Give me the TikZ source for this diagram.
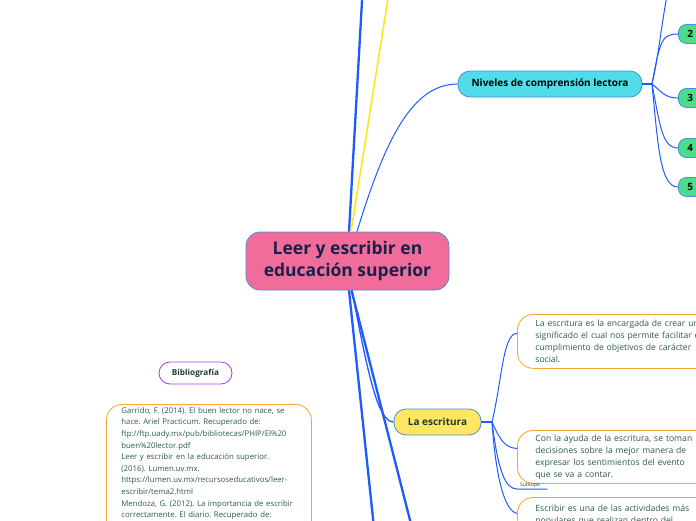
\documentclass[tikz,border=0pt]{standalone}
\usepackage{fontspec}
\setmainfont{Open Sans}
\frenchspacing
\definecolor{lineblue}{HTML}{1E5BFF}
\definecolor{lineyel}{HTML}{FFE81A}
\definecolor{pinkfill}{HTML}{F26C9B}
\definecolor{navy}{HTML}{17224A}
\definecolor{edgeblue}{HTML}{4A90CF}
\definecolor{cyanfill}{HTML}{50DCE9}
\definecolor{greenfill}{HTML}{4CDC8D}
\definecolor{yelfill}{HTML}{FFE761}
\definecolor{orangeb}{HTML}{F7A531}
\definecolor{purpleb}{HTML}{A13BEB}
\definecolor{txtgreen}{HTML}{2C5A4A}
\definecolor{darkgreen}{HTML}{1C3A30}
\tikzset{
  mainbox/.style={draw=edgeblue, fill=pinkfill, rounded corners=14pt, line width=0.8pt,
    minimum width=203pt, minimum height=58pt, align=center, text=navy,
    font=\fontsize{17.5}{22}\selectfont\bfseries},
  topicbox/.style={draw=edgeblue, line width=0.8pt, rounded corners=12pt, minimum height=26pt,
    font=\fontsize{10}{12}\selectfont\bfseries},
  numbox/.style={draw=edgeblue, fill=greenfill, line width=0.8pt, rounded corners=8pt,
    minimum height=19pt, text width=40pt, inner xsep=9pt, align=left, anchor=west,
    font=\fontsize{10}{12}\selectfont\bfseries},
  notebox/.style={draw=orangeb, line width=0.8pt, rounded corners=16pt, anchor=north west,
    text width=280pt, inner xsep=18pt, align=left, text=txtgreen,
    font=\fontsize{8.6}{12}\selectfont},
  thickline/.style={draw=lineblue, line width=2.3pt},
  thinline/.style={draw=lineblue, line width=1pt},
}
\begin{document}
\begin{tikzpicture}[x=1pt,y=-1pt]
\useasboundingbox (0,0) rectangle (696,520);
\clip (0,0) rectangle (696,520);

% nodes
\node[mainbox] (c) at (347.5,261) {Leer y escribir en\\educación superior};
\node[topicbox, fill=cyanfill, minimum width=184pt, text=black] (n) at (550,84) {Niveles de comprensión lectora};
\node[topicbox, fill=yelfill, minimum width=87pt, text=darkgreen] (esc) at (437.5,422) {La escritura};

\node[numbox] (g2) at (678,34) {2};
\node[numbox] (g3) at (678,98) {3};
\node[numbox] (g4) at (678,148) {4};
\node[numbox] (g5) at (678,187) {5};

\node[notebox, minimum height=54pt] (b1) at (517,314)
  {La escritura es la encargada de crear un\\significado el cual nos permite facilitar el\\cumplimiento de objetivos de carácter\\social.};
\node[notebox, minimum height=53pt] (b2) at (517,430)
  {Con la ayuda de la escritura, se toman\\decisiones sobre la mejor manera de\\expresar los sentimientos del evento\\que se va a contar.};
\node[notebox, minimum height=36pt, inner ysep=3pt] (b3) at (517,497)
  {Escribir es una de las actividades más\\populares que realizan dentro del\\ };

\node[anchor=south west, inner xsep=3pt, inner ysep=1pt, text width=24pt, align=left,
  font=\fontsize{5}{6}\selectfont, text=black!80] (sub) at (517,489) {Subtopic};

\node[draw=purpleb, line width=0.8pt, rounded corners=11pt, minimum width=73pt, minimum height=22pt,
  text=darkgreen, font=\fontsize{8.2}{10}\selectfont\bfseries] (bib) at (195.5,373) {Bibliografía};

\node[draw=orangeb, line width=0.8pt, rounded corners=16pt, anchor=north west, text width=175pt,
  inner xsep=15pt, inner ysep=3pt, align=left, text=txtgreen,
  font=\fontsize{7.8}{11.6}\selectfont] (refs) at (106,404)
  {Garrido, F. (2014). El buen lector no nace, se\\
   hace. Ariel Practicum. Recuperado de:\\
   ftp://ftp.uady.mx/pub/bibliotecas/PHIP/El\%20\\
   buen\%20lector.pdf\\
   Leer y escribir en la educación superior.\\
   (2016). Lumen.uv.mx.\\
   https://lumen.uv.mx/recursoseducativos/leer-\\
   escribir/tema2.html\\
   Mendoza, G. (2012). La importancia de escribir\\
   correctamente. El diario. Recuperado de:\\
   \ \\ \ };

% free ends
\coordinate (top1) at (362.5,-8);
\coordinate (top2) at (389,-8);
\coordinate (bot1) at (374,528);
\coordinate (bot2) at (412,528);
\coordinate (gtop) at (668,-10);
\coordinate (nh) at (652,84);
\coordinate (eh) at (492,422);

% connectors from centre
\draw[thickline] ([xshift=1.5pt]c.north) -- (top1);
\draw[draw=lineyel, line width=1.6pt] ([xshift=3.5pt]c.north) -- (top2);
\draw[thinline] ([xshift=9.5pt]c.north) .. controls (385,140) and (412,84) .. (n.west);
\draw[thickline] ([xshift=1.5pt]c.south) -- (bot1);
\draw[thickline] ([xshift=4pt]c.south) -- (bot2);
\draw[draw=lineblue, line width=1.3pt] ([xshift=4.5pt]c.south) .. controls (368,375) and (378,422) .. (esc.west);

% Niveles hub
\draw[draw=lineblue, line width=2.3pt] (n.east) -- (nh);
\draw[thinline] (nh) .. controls (658,60) and (662,20) .. (gtop);
\draw[thinline] (nh) .. controls (660,40) and (662,34) .. (g2.west);
\draw[thinline] (nh) .. controls (662,92) and (665,98) .. (g3.west);
\draw[thinline] (nh) .. controls (660,125) and (662,148) .. (g4.west);
\draw[thinline] (nh) .. controls (658,145) and (660,187) .. (g5.west);

% La escritura hub
\draw[draw=lineblue, line width=2.3pt] (esc.east) -- (eh);
\draw[thinline] (eh) .. controls (502,380) and (503,333) .. ([yshift=8pt]b1.west);
\draw[thinline] (eh) .. controls (500,440) and (505,448) .. ([yshift=8.5pt]b2.west);
\draw[thinline] (eh) .. controls (498,470) and (505,489) .. (sub.south west) -- (sub.south east);
\draw[thinline] (eh) .. controls (496,480) and (505,511) .. ([yshift=2pt]b3.west);
\end{tikzpicture}
\end{document}
